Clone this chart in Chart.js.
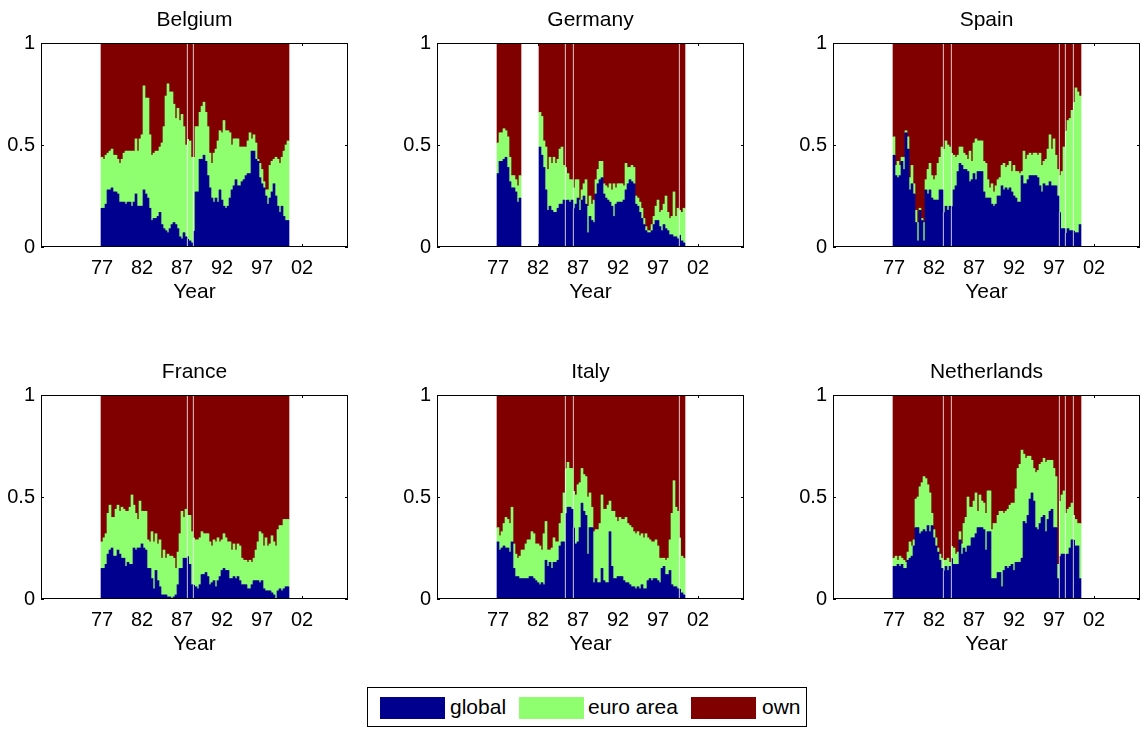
<!DOCTYPE html>
<html lang="en">
  <head>
    <meta charset="UTF-8" />
    <script src="https://cdn.jsdelivr.net/npm/chart.js"></script>
    <title>Variance shares by country</title>
    <style>
      body { margin: 0; background: #fff; overflow: hidden; }
      #figure { position: relative; width: 1144px; height: 731px; }
      .panel { position: absolute; }
      #legend {
        position: absolute; left: 367px; top: 687px; width: 438px; height: 38px;
        border: 1px solid #000; background: #fff;
        font-family: "Liberation Sans", Arial, Helvetica, sans-serif; font-size: 21px;
      }
      #legend .swatch { position: absolute; top: 9px; width: 65px; height: 22px; }
      #legend .label { position: absolute; top: 7px; line-height: 24px; color: #000; }
    </style>
  </head>
  <body>
    <div id="figure">
      <canvas id="belgium" class="panel" width="389" height="309" style="left:0px;top:0px"></canvas>
      <canvas id="germany" class="panel" width="389" height="309" style="left:396px;top:0px"></canvas>
      <canvas id="spain" class="panel" width="389" height="309" style="left:792px;top:0px"></canvas>
      <canvas id="france" class="panel" width="389" height="309" style="left:0px;top:352px"></canvas>
      <canvas id="italy" class="panel" width="389" height="309" style="left:396px;top:352px"></canvas>
      <canvas id="netherlands" class="panel" width="389" height="309" style="left:792px;top:352px"></canvas>
      <div id="legend">
        <span class="swatch" style="left:12px;background:#00008f"></span>
        <span class="label" style="left:82px">global</span>
        <span class="swatch" style="left:151px;background:#8fff70"></span>
        <span class="label" style="left:220px">euro area</span>
        <span class="swatch" style="left:323px;background:#800000"></span>
        <span class="label" style="left:394px">own</span>
      </div>
    </div>
    <script>
      // quarterly observations, 1977Q1 .. 2000Q2
      const quarters = [];
      for (let i = 0; i < 94; i++) quarters.push(1977 + i / 4);

      const yearTicks = [1977, 1982, 1987, 1992, 1997, 2002];
      const yearLabels = ["77", "82", "87", "92", "97", "02"];
      const shareTicks = [0, 0.5, 1];
      const shareLabels = ["0", "0.5", "1"];

      const belgiumGlobal = [.19,.19,.21,.28,.28,.29,.27,.27,.26,.22,.22,.22,.21,.22,.22,.20,.22,.26,.20,.20,.20,.28,.26,.24,.19,.13,.14,.14,.15,.17,.11,.09,.08,.07,.09,.11,.12,.11,.09,.05,.04,.07,.05,.04,.03,.02,.08,.27,.27,.43,.43,.45,.42,.35,.29,.24,.22,.24,.22,.28,.23,.20,.19,.20,.24,.28,.30,.33,.30,.30,.32,.33,.35,.36,.36,.47,.47,.43,.42,.34,.31,.29,.25,.21,.24,.27,.31,.25,.20,.17,.20,.15,.13,.13];
      const belgiumEuro = [.25,.24,.24,.18,.19,.19,.18,.18,.17,.19,.21,.24,.26,.25,.25,.27,.25,.27,.27,.33,.35,.51,.47,.49,.36,.32,.32,.33,.32,.32,.40,.50,.66,.73,.67,.65,.58,.52,.59,.57,.61,.52,.45,.49,.49,.42,.36,.32,.32,.23,.26,.26,.24,.24,.17,.17,.24,.24,.30,.29,.33,.42,.38,.37,.32,.22,.23,.20,.23,.19,.17,.16,.14,.16,.20,.06,.08,.08,.01,.07,.07,.03,.03,.07,.16,.15,.12,.19,.23,.24,.24,.32,.37,.39];
      const belgiumOwn = [.56,.57,.55,.54,.53,.52,.55,.55,.57,.59,.57,.54,.53,.53,.53,.53,.53,.47,.53,.47,.45,.21,.27,.27,.45,.55,.54,.53,.53,.51,.49,.41,.26,.20,.24,.24,.30,.37,.32,.38,.35,.41,.50,.47,.48,.56,.56,.41,.41,.34,.31,.29,.34,.41,.54,.59,.54,.52,.48,.43,.44,.38,.43,.43,.44,.50,.47,.47,.47,.51,.51,.51,.51,.48,.44,.47,.45,.49,.57,.59,.62,.68,.72,.72,.60,.58,.57,.56,.57,.59,.56,.53,.50,.48];

      const germanyGlobal = [.36,.42,.42,.43,.44,.39,.32,.29,.29,.27,.22,.24,null,null,null,null,null,null,null,null,null,.49,.45,.39,.28,.18,.20,.18,.17,.17,.19,.21,.21,.23,.23,.23,.22,.23,.19,.21,.24,.18,.23,.25,.21,.07,.15,.13,.12,.26,.31,.33,.34,.26,.24,.23,.22,.20,.15,.21,.22,.22,.22,.23,.28,.31,.33,.32,.31,.21,.20,.17,.14,.11,.08,.07,.07,.08,.11,.13,.13,.10,.08,.11,.09,.08,.06,.06,.05,.05,.04,.06,.03,.02];
      const germanyEuro = [.15,.14,.14,.15,.13,.15,.12,.06,.06,.06,.08,.11,null,null,null,null,null,null,null,null,null,.17,.19,.13,.21,.20,.24,.23,.27,.24,.24,.27,.28,.17,.16,.13,.11,.10,.10,.12,.09,.05,.05,.06,.12,.13,.10,.08,.11,.07,.07,.09,.08,.05,.06,.06,.09,.08,.16,.08,.09,.09,.09,.07,.13,.08,.06,.08,.08,.04,.04,.05,.05,.03,.02,.01,.01,.03,.04,.07,.10,.07,.10,.10,.16,.09,.08,.09,.22,.10,.15,.12,.14,.17];
      const germanyOwn = [.49,.44,.44,.42,.43,.46,.56,.65,.65,.67,.70,.65,null,null,null,null,null,null,null,null,null,.34,.36,.48,.51,.62,.56,.59,.56,.59,.57,.52,.51,.60,.61,.64,.67,.67,.71,.67,.67,.77,.72,.69,.67,.80,.75,.79,.77,.67,.62,.58,.58,.69,.70,.71,.69,.72,.69,.71,.69,.69,.69,.70,.59,.61,.61,.60,.61,.75,.76,.78,.81,.86,.90,.92,.92,.89,.85,.80,.77,.83,.82,.79,.75,.83,.86,.85,.73,.85,.81,.82,.83,.81];

      const spainGlobal = [.45,.35,.34,.35,.42,.38,.56,.48,.28,.31,.26,.12,.03,.18,.13,.03,.28,.26,.28,.24,.23,.23,.23,.28,.28,.17,.20,.18,.20,.20,.28,.30,.37,.41,.40,.38,.38,.37,.32,.33,.36,.33,.37,.37,.37,.27,.24,.24,.24,.21,.20,.21,.25,.25,.30,.28,.29,.28,.29,.27,.25,.24,.22,.22,.35,.31,.31,.33,.35,.35,.35,.35,.34,.30,.27,.31,.30,.30,.32,.30,.30,.30,.25,.17,.09,.09,.07,.09,.08,.08,.08,.07,.07,.11];
      const spainEuro = [.09,.05,.08,.05,.02,.06,.01,.06,.06,.09,.05,.06,.09,.01,.01,.09,.05,.12,.13,.11,.10,.12,.18,.16,.21,.31,.32,.32,.29,.26,.17,.14,.08,.08,.09,.08,.07,.06,.15,.09,.15,.20,.15,.15,.15,.15,.17,.09,.05,.10,.07,.09,.08,.09,.10,.13,.10,.12,.13,.10,.15,.13,.15,.14,.02,.16,.12,.12,.11,.10,.11,.11,.11,.16,.13,.11,.13,.18,.23,.18,.23,.15,.13,.18,.28,.40,.50,.53,.55,.59,.63,.71,.69,.63];
      const spainOwn = [.46,.60,.58,.60,.56,.56,.43,.46,.66,.60,.69,.82,.88,.81,.86,.88,.67,.62,.59,.65,.67,.65,.59,.56,.51,.52,.48,.50,.51,.54,.55,.56,.55,.51,.51,.54,.55,.57,.53,.58,.49,.47,.48,.48,.48,.58,.59,.67,.71,.69,.73,.70,.67,.66,.60,.59,.61,.60,.58,.63,.60,.63,.63,.64,.63,.53,.57,.55,.54,.55,.54,.54,.55,.54,.60,.58,.57,.52,.45,.52,.47,.55,.62,.65,.63,.51,.43,.38,.37,.33,.29,.22,.24,.26];

      const franceGlobal = [.15,.15,.17,.22,.24,.25,.21,.21,.24,.22,.20,.20,.16,.18,.17,.17,.25,.24,.25,.25,.27,.25,.24,.15,.15,.10,.05,.14,.09,.06,.02,.02,.02,.01,.01,.00,.01,.02,.07,.15,.15,.20,.20,.21,.17,.07,.07,.06,.05,.07,.12,.12,.13,.11,.07,.08,.09,.06,.09,.11,.14,.15,.14,.14,.10,.10,.11,.10,.11,.09,.07,.07,.07,.05,.05,.07,.09,.09,.09,.08,.09,.05,.04,.04,.04,.03,.02,.00,.04,.05,.04,.05,.06,.06];
      const franceEuro = [.13,.15,.15,.20,.22,.15,.19,.23,.22,.21,.25,.24,.27,.25,.28,.34,.21,.18,.14,.23,.16,.18,.19,.14,.13,.23,.23,.18,.18,.23,.18,.22,.18,.21,.20,.21,.19,.13,.16,.17,.28,.20,.24,.20,.24,.26,.23,.23,.24,.23,.21,.20,.19,.21,.21,.18,.20,.22,.21,.17,.15,.17,.16,.14,.18,.14,.16,.14,.16,.17,.13,.12,.12,.13,.14,.11,.11,.15,.19,.25,.23,.21,.26,.22,.23,.28,.26,.26,.30,.31,.32,.34,.33,.33];
      const franceOwn = [.72,.70,.68,.58,.54,.60,.60,.56,.54,.57,.55,.56,.57,.57,.55,.49,.54,.58,.61,.52,.57,.57,.57,.71,.72,.67,.72,.68,.73,.71,.80,.76,.80,.78,.79,.79,.80,.85,.77,.68,.57,.60,.56,.59,.59,.67,.70,.71,.71,.70,.67,.68,.68,.68,.72,.74,.71,.72,.70,.72,.71,.68,.70,.72,.72,.76,.73,.76,.73,.74,.80,.81,.81,.82,.81,.82,.80,.76,.72,.67,.68,.74,.70,.74,.73,.69,.72,.74,.66,.64,.64,.61,.61,.61];

      const italyGlobal = [.28,.24,.25,.26,.25,.25,.23,.28,.15,.11,.11,.10,.10,.10,.10,.10,.11,.11,.10,.09,.08,.07,.08,.07,.19,.16,.18,.15,.18,.18,.19,.26,.28,.28,.42,.45,.45,.44,.35,.27,.28,.35,.47,.43,.41,.22,.35,.35,.08,.10,.08,.08,.15,.09,.08,.08,.33,.16,.10,.10,.11,.11,.11,.09,.08,.08,.07,.06,.06,.05,.06,.05,.07,.05,.05,.09,.10,.09,.10,.10,.09,.08,.15,.16,.12,.12,.14,.07,.06,.06,.05,.05,.03,.02];
      const italyEuro = [.07,.07,.08,.11,.15,.14,.14,.17,.12,.11,.09,.11,.14,.14,.17,.19,.18,.22,.22,.18,.19,.19,.16,.25,.19,.08,.06,.10,.12,.10,.09,.11,.14,.24,.22,.22,.19,.20,.18,.24,.28,.22,.17,.18,.19,.28,.17,.10,.25,.24,.26,.29,.36,.35,.36,.38,.15,.27,.33,.30,.27,.29,.28,.30,.32,.29,.29,.29,.27,.27,.27,.26,.25,.25,.27,.21,.19,.19,.18,.19,.17,.12,.05,.04,.07,.08,.15,.35,.52,.39,.38,.25,.18,.18];
      const italyOwn = [.65,.69,.67,.63,.60,.61,.63,.55,.73,.78,.80,.79,.76,.76,.73,.71,.71,.67,.68,.73,.73,.74,.76,.68,.62,.76,.76,.75,.70,.72,.72,.63,.58,.48,.36,.33,.36,.36,.47,.49,.44,.43,.36,.39,.40,.50,.48,.55,.67,.66,.66,.63,.49,.56,.56,.54,.52,.57,.57,.60,.62,.60,.61,.61,.60,.63,.64,.65,.67,.68,.67,.69,.68,.70,.68,.70,.71,.72,.72,.71,.74,.80,.80,.80,.81,.80,.71,.58,.42,.55,.57,.70,.79,.80];

      const netherlandsGlobal = [.16,.16,.17,.16,.17,.15,.15,.19,.20,.21,.26,.35,.35,.32,.33,.34,.33,.36,.33,.36,.30,.26,.23,.19,.15,.14,.16,.14,.16,.20,.17,.17,.17,.29,.22,.25,.23,.26,.26,.30,.30,.32,.35,.35,.35,.34,.24,.33,.33,.10,.10,.10,.13,.13,.06,.14,.16,.15,.16,.17,.14,.18,.18,.18,.20,.38,.37,.41,.49,.52,.48,.35,.34,.37,.40,.41,.33,.39,.43,.44,.35,.35,.10,.21,.22,.22,.22,.22,.25,.29,.29,.26,.26,.10];
      const netherlandsEuro = [.04,.05,.02,.05,.03,.04,.03,.04,.08,.05,.03,.14,.15,.23,.24,.26,.26,.20,.19,.06,.04,.04,.02,.03,.05,.05,.03,.06,.02,.06,.08,.05,.06,.04,.05,.12,.17,.24,.19,.15,.18,.20,.08,.16,.13,.13,.18,.20,.20,.24,.27,.27,.28,.30,.37,.28,.27,.29,.30,.30,.33,.36,.46,.48,.53,.33,.32,.29,.21,.16,.16,.27,.29,.29,.27,.28,.34,.29,.25,.24,.29,.25,.07,.27,.29,.31,.20,.22,.20,.18,.12,.13,.11,.27];
      const netherlandsOwn = [.80,.79,.81,.79,.80,.81,.82,.77,.72,.74,.71,.51,.50,.45,.43,.40,.41,.44,.48,.58,.66,.70,.75,.78,.80,.81,.81,.80,.82,.74,.75,.78,.77,.67,.73,.63,.60,.50,.55,.55,.52,.48,.57,.49,.52,.53,.58,.47,.47,.66,.63,.63,.59,.57,.57,.58,.57,.56,.54,.53,.53,.46,.36,.34,.27,.29,.31,.30,.30,.32,.36,.38,.37,.34,.33,.31,.33,.32,.32,.32,.36,.40,.83,.52,.49,.47,.58,.56,.55,.53,.59,.61,.63,.63];

      // thin white seams drawn at the left edge of these bars, per panel column
      const seamBars = [[43, 46], [34, 38, 91], [25, 29, 83, 86, 90]];

      const panels = [
        { id: "belgium", title: "Belgium", col: 0, series: [belgiumGlobal, belgiumEuro, belgiumOwn] },
        { id: "germany", title: "Germany", col: 1, series: [germanyGlobal, germanyEuro, germanyOwn] },
        { id: "spain", title: "Spain", col: 2, series: [spainGlobal, spainEuro, spainOwn] },
        { id: "france", title: "France", col: 0, series: [franceGlobal, franceEuro, franceOwn] },
        { id: "italy", title: "Italy", col: 1, series: [italyGlobal, italyEuro, italyOwn] },
        { id: "netherlands", title: "Netherlands", col: 2, series: [netherlandsGlobal, netherlandsEuro, netherlandsOwn] },
      ];

      const seriesNames = ["global", "euro area", "own"];
      const seriesColors = ["#00008f", "#8fff70", "#800000"];

      Chart.defaults.font.family = '"Liberation Sans", Arial, Helvetica, sans-serif';
      Chart.defaults.color = "#000";

      // box around the axes plus small inward ticks (ticks go under the bars)
      const axesBox = {
        id: "axesBox",
        beforeDatasetsDraw(chart) {
          const { ctx, chartArea: a, scales } = chart;
          ctx.save();
          ctx.strokeStyle = "#000";
          ctx.lineWidth = 1;
          ctx.beginPath();
          yearTicks.forEach((v) => {
            const px = Math.round(scales.x.getPixelForValue(v)) + 0.5;
            ctx.moveTo(px, a.bottom);
            ctx.lineTo(px, a.bottom - 3);
            ctx.moveTo(px, a.top);
            ctx.lineTo(px, a.top + 3);
          });
          shareTicks.forEach((v) => {
            const py = Math.round(scales.y.getPixelForValue(v)) + 0.5;
            ctx.moveTo(a.left, py);
            ctx.lineTo(a.left + 3, py);
            ctx.moveTo(a.right, py);
            ctx.lineTo(a.right - 3, py);
          });
          ctx.stroke();
          ctx.restore();
        },
        afterDatasetsDraw(chart) {
          const { ctx, chartArea: a } = chart;
          ctx.save();
          ctx.strokeStyle = "#000";
          ctx.lineWidth = 1;
          ctx.strokeRect(a.left + 0.5, a.top + 0.5, a.right - a.left - 1, a.bottom - a.top - 1);
          ctx.restore();
        },
      };

      const drawPanel = (p) => {
        const seams = seamBars[p.col];
        const datasets = p.series.map((values, s) => ({
          label: seriesNames[s],
          data: quarters.map((q, i) => ({ x: q, y: values[i] })),
          backgroundColor: seriesColors[s],
          borderColor: "#fff",
          borderSkipped: false,
          borderWidth: (c) => (seams.includes(c.dataIndex) ? { left: 1, right: 0, top: 0, bottom: 0 } : 0),
          barPercentage: 1,
          categoryPercentage: 1,
        }));

        new Chart(document.getElementById(p.id), {
          type: "bar",
          data: { datasets },
          options: {
            responsive: false,
            animation: false,
            devicePixelRatio: 1,
            layout: { padding: { left: 0, right: 41, top: 0, bottom: 0 } },
            plugins: {
              legend: { display: false },
              tooltip: { enabled: false },
              title: {
                display: true,
                text: p.title,
                fullSize: false,
                font: { size: 21, weight: "normal", lineHeight: 1 },
                padding: { top: 10, bottom: 12 },
              },
            },
            scales: {
              x: {
                type: "linear",
                stacked: true,
                offset: false,
                min: 1969.375,
                max: 2007.75,
                grid: { display: false, drawTicks: false },
                border: { display: false },
                afterBuildTicks: (scale) => {
                  scale.ticks = yearTicks.map((v) => ({ value: v }));
                },
                afterFit: (scale) => {
                  scale.height = 62;
                },
                ticks: {
                  autoSkip: false,
                  maxRotation: 0,
                  padding: 11,
                  font: { size: 20, lineHeight: 1 },
                  callback: (v, i) => yearLabels[i],
                },
                title: {
                  display: true,
                  text: "Year",
                  font: { size: 21, lineHeight: 1 },
                  padding: { top: 0, bottom: 6 },
                },
              },
              y: {
                stacked: true,
                min: 0,
                max: 1,
                grid: { display: false, drawTicks: false },
                border: { display: false },
                afterBuildTicks: (scale) => {
                  scale.ticks = shareTicks.map((v) => ({ value: v }));
                },
                afterFit: (scale) => {
                  scale.width = 41;
                },
                ticks: {
                  padding: 6,
                  font: { size: 20 },
                  callback: (v, i) => shareLabels[i],
                },
              },
            },
          },
          plugins: [axesBox],
        });
      };

      panels.forEach(drawPanel);
    </script>
  </body>
</html>
